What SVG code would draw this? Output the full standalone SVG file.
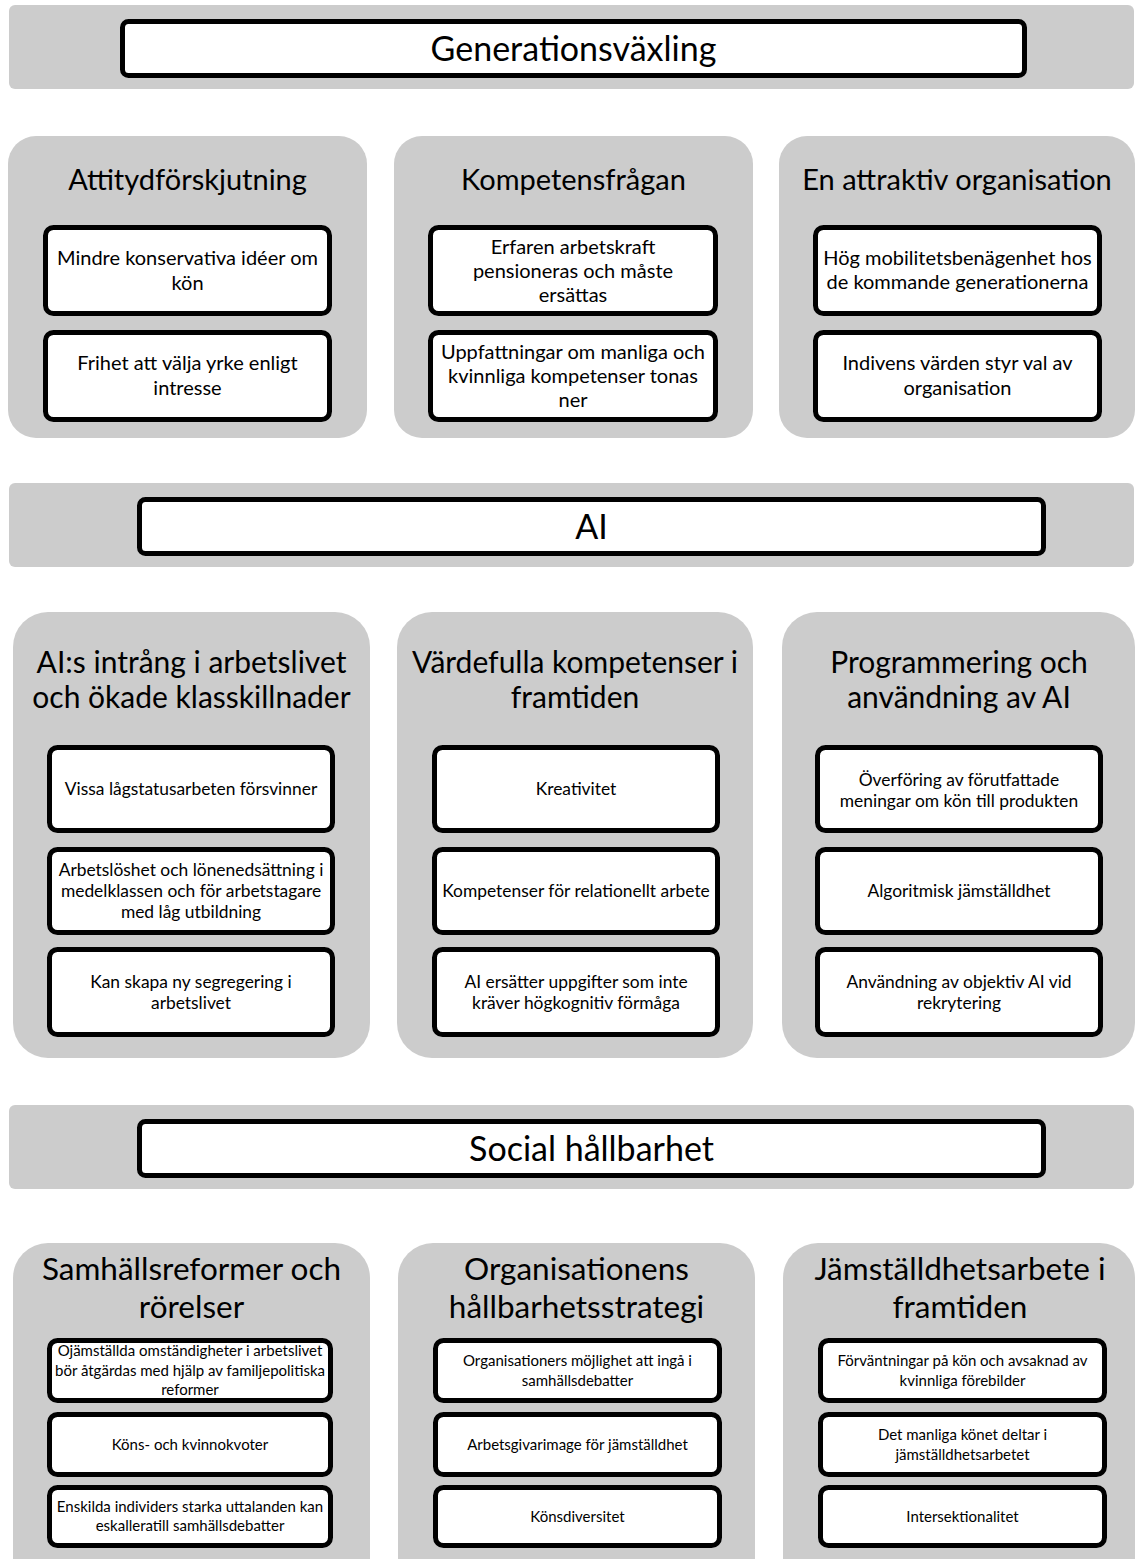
<svg xmlns="http://www.w3.org/2000/svg" width="1135" height="1559" viewBox="0 0 1135 1559">
<style>
.bg{fill:#cccccc}
.box{fill:#ffffff;stroke:#000000;stroke-width:5}
text{font-family:Lato,"Liberation Sans",sans-serif;fill:#000000;text-anchor:middle}
.band{font-size:34px}
.t1{font-size:29px}
.t2{font-size:30px}
.t3{font-size:31.5px}
.s1{font-size:20px}
.s2{font-size:17.4px}
.s3{font-size:15px}
</style>
<rect width="1135" height="1559" fill="#ffffff"/>
<g id="connectors"></g>

<!-- Band 1 -->
<g id="band-generationsvaxling">
<rect class="bg" x="9" y="5" width="1125" height="84" rx="6"/>
<rect class="box" x="122.5" y="21.5" width="902" height="54" rx="6"/>
<text class="band" x="573.5" y="60.5">Generationsväxling</text>
</g>

<!-- Row 1 -->
<g id="panel-attityd">
<rect class="bg" x="8" y="136" width="359" height="302" rx="28"/>
<text class="t1" x="187.5" y="190">Attitydförskjutning</text>
</g>
<g id="node-mindre">
<rect class="box" x="45.5" y="227.5" width="284" height="86" rx="8"/>
<text class="s1" x="187.5" y="265">Mindre konservativa idéer om</text>
<text class="s1" x="187.5" y="290">kön</text>
</g>
<g id="node-frihet">
<rect class="box" x="45.5" y="332.5" width="284" height="87" rx="8"/>
<text class="s1" x="187.5" y="370">Frihet att välja yrke enligt</text>
<text class="s1" x="187.5" y="395">intresse</text>
</g>

<g id="panel-kompetens">
<rect class="bg" x="394" y="136" width="359" height="302" rx="28"/>
<text class="t1" x="573.5" y="190">Kompetensfrågan</text>
</g>
<g id="node-erfaren">
<rect class="box" x="430.5" y="227.5" width="285" height="86" rx="8"/>
<text class="s1" x="573" y="253.5">Erfaren arbetskraft</text>
<text class="s1" x="573" y="277.5">pensioneras och måste</text>
<text class="s1" x="573" y="301.5">ersättas</text>
</g>
<g id="node-uppfattningar">
<rect class="box" x="430.5" y="332.5" width="285" height="87" rx="8"/>
<text class="s1" x="573" y="359">Uppfattningar om manliga och</text>
<text class="s1" x="573" y="383">kvinnliga kompetenser tonas</text>
<text class="s1" x="573" y="407">ner</text>
</g>

<g id="panel-attraktiv">
<rect class="bg" x="779" y="136" width="356" height="302" rx="28"/>
<text class="t1" x="957" y="190">En attraktiv organisation</text>
</g>
<g id="node-mobilitet">
<rect class="box" x="815.5" y="227.5" width="284" height="86" rx="8"/>
<text class="s1" x="957.5" y="265">Hög mobilitetsbenägenhet hos</text>
<text class="s1" x="957.5" y="289">de kommande generationerna</text>
</g>
<g id="node-indivens">
<rect class="box" x="815.5" y="332.5" width="284" height="87" rx="8"/>
<text class="s1" x="957.5" y="370">Indivens värden styr val av</text>
<text class="s1" x="957.5" y="395">organisation</text>
</g>

<!-- Band 2 -->
<g id="band-ai">
<rect class="bg" x="9" y="483" width="1125" height="84" rx="6"/>
<rect class="box" x="139.5" y="499.5" width="904" height="54" rx="6"/>
<text class="band" x="591.5" y="538.5">AI</text>
</g>

<!-- Row 2 -->
<g id="panel-intrang">
<rect class="bg" x="13" y="612" width="357" height="446" rx="35"/>
<text class="t2" x="191.5" y="672.5">AI:s intrång i arbetslivet</text>
<text class="t2" x="191.5" y="707.5">och ökade klasskillnader</text>
</g>
<g id="node-vissa">
<rect class="box" x="49.5" y="747.5" width="283" height="83" rx="8"/>
<text class="s2" x="191" y="795">Vissa lågstatusarbeten försvinner</text>
</g>
<g id="node-arbetsloshet">
<rect class="box" x="49.5" y="849.5" width="283" height="83" rx="8"/>
<text class="s2" x="191" y="876">Arbetslöshet och lönenedsättning i</text>
<text class="s2" x="191" y="897">medelklassen och för arbetstagare</text>
<text class="s2" x="191" y="918">med låg utbildning</text>
</g>
<g id="node-segregering">
<rect class="box" x="49.5" y="949.5" width="283" height="85" rx="8"/>
<text class="s2" x="191" y="987.5">Kan skapa ny segregering i</text>
<text class="s2" x="191" y="1008.5">arbetslivet</text>
</g>

<g id="panel-vardefulla">
<rect class="bg" x="397" y="612" width="356" height="446" rx="35"/>
<text class="t2" x="575" y="672.5">Värdefulla kompetenser i</text>
<text class="t2" x="575" y="707.5">framtiden</text>
</g>
<g id="node-kreativitet">
<rect class="box" x="434.5" y="747.5" width="283" height="83" rx="8"/>
<text class="s2" x="576" y="795">Kreativitet</text>
</g>
<g id="node-relationellt">
<rect class="box" x="434.5" y="849.5" width="283" height="83" rx="8"/>
<text class="s2" x="576" y="897">Kompetenser för relationellt arbete</text>
</g>
<g id="node-ersatter">
<rect class="box" x="434.5" y="949.5" width="283" height="85" rx="8"/>
<text class="s2" x="576" y="987.5">AI ersätter uppgifter som inte</text>
<text class="s2" x="576" y="1008.5">kräver högkognitiv förmåga</text>
</g>

<g id="panel-programmering">
<rect class="bg" x="782" y="612" width="353" height="446" rx="35"/>
<text class="t2" x="959" y="672.5">Programmering och</text>
<text class="t2" x="959" y="707.5">användning av AI</text>
</g>
<g id="node-overforing">
<rect class="box" x="817.5" y="747.5" width="283" height="83" rx="8"/>
<text class="s2" x="959" y="785.5">Överföring av förutfattade</text>
<text class="s2" x="959" y="806.5">meningar om kön till produkten</text>
</g>
<g id="node-algoritmisk">
<rect class="box" x="817.5" y="849.5" width="283" height="83" rx="8"/>
<text class="s2" x="959" y="897">Algoritmisk jämställdhet</text>
</g>
<g id="node-anvandning">
<rect class="box" x="817.5" y="949.5" width="283" height="85" rx="8"/>
<text class="s2" x="959" y="987.5">Användning av objektiv AI vid</text>
<text class="s2" x="959" y="1008.5">rekrytering</text>
</g>

<!-- Band 3 -->
<g id="band-social">
<rect class="bg" x="9" y="1105" width="1125" height="84" rx="6"/>
<rect class="box" x="139.5" y="1121.5" width="904" height="54" rx="6"/>
<text class="band" x="591.5" y="1160.5">Social hållbarhet</text>
</g>

<!-- Row 3 -->
<g id="panel-samhallsreformer">
<rect class="bg" x="13" y="1243" width="357" height="360" rx="35"/>
<text class="t3" x="191.5" y="1280">Samhällsreformer och</text>
<text class="t3" x="191.5" y="1318">rörelser</text>
</g>
<g id="node-ojamstallda">
<rect class="box" x="49.5" y="1340.5" width="281" height="60" rx="8"/>
<text class="s3" x="190" y="1356">Ojämställda omständigheter i arbetslivet</text>
<text class="s3" x="190" y="1375.5">bör åtgärdas med hjälp av familjepolitiska</text>
<text class="s3" x="190" y="1395">reformer</text>
</g>
<g id="node-kvoter">
<rect class="box" x="49.5" y="1414.5" width="281" height="60" rx="8"/>
<text class="s3" x="190" y="1450">Köns- och kvinnokvoter</text>
</g>
<g id="node-enskilda">
<rect class="box" x="49.5" y="1487.5" width="281" height="58" rx="8"/>
<text class="s3" x="190" y="1512">Enskilda individers starka uttalanden kan</text>
<text class="s3" x="190" y="1531">eskalleratill samhällsdebatter</text>
</g>

<g id="panel-organisationens">
<rect class="bg" x="398" y="1243" width="357" height="360" rx="35"/>
<text class="t3" x="576.5" y="1280">Organisationens</text>
<text class="t3" x="576.5" y="1318">hållbarhetsstrategi</text>
</g>
<g id="node-mojlighet">
<rect class="box" x="435.5" y="1340.5" width="284" height="60" rx="8"/>
<text class="s3" x="577.5" y="1366">Organisationers möjlighet att ingå i</text>
<text class="s3" x="577.5" y="1385.5">samhällsdebatter</text>
</g>
<g id="node-arbetsgivarimage">
<rect class="box" x="435.5" y="1414.5" width="284" height="60" rx="8"/>
<text class="s3" x="577.5" y="1450">Arbetsgivarimage för jämställdhet</text>
</g>
<g id="node-konsdiversitet">
<rect class="box" x="435.5" y="1487.5" width="284" height="58" rx="8"/>
<text class="s3" x="577.5" y="1522">Könsdiversitet</text>
</g>

<g id="panel-jamstalldhetsarbete">
<rect class="bg" x="783" y="1243" width="352" height="360" rx="35"/>
<text class="t3" x="960" y="1280">Jämställdhetsarbete i</text>
<text class="t3" x="960" y="1318">framtiden</text>
</g>
<g id="node-forvantningar">
<rect class="box" x="820.5" y="1340.5" width="284" height="60" rx="8"/>
<text class="s3" x="962.5" y="1366">Förväntningar på kön och avsaknad av</text>
<text class="s3" x="962.5" y="1385.5">kvinnliga förebilder</text>
</g>
<g id="node-manliga">
<rect class="box" x="820.5" y="1414.5" width="284" height="60" rx="8"/>
<text class="s3" x="962.5" y="1440">Det manliga könet deltar i</text>
<text class="s3" x="962.5" y="1459.5">jämställdhetsarbetet</text>
</g>
<g id="node-intersektionalitet">
<rect class="box" x="820.5" y="1487.5" width="284" height="58" rx="8"/>
<text class="s3" x="962.5" y="1522">Intersektionalitet</text>
</g>
</svg>
